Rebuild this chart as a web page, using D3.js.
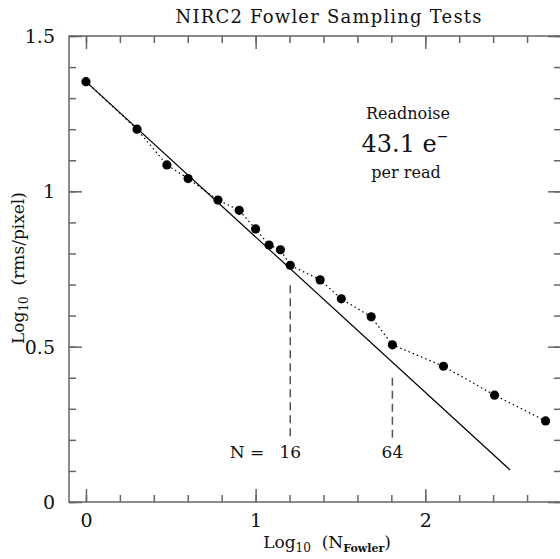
<!DOCTYPE html>
<html lang="en">
<head>
<meta charset="utf-8">
<title>NIRC2 Fowler Sampling Tests</title>
<script src="https://cdn.jsdelivr.net/npm/d3@7"></script>
<style>
  body { margin: 0; background: #fff; }
  svg { display: block; font-family: "DejaVu Serif", serif; }
  .frame path.domain { display: none; }
  .frame line { stroke: #666; stroke-width: 1.5px; }
  .frame text { fill: #111; font-size: 19px; font-family: "DejaVu Serif", serif; }
</style>
</head>
<body>
<script>

// fowler samples and measured log10 noise
var nFowler = [1, 2, 3, 4, 6, 8, 10, 12, 14, 16, 24, 32, 48, 64, 128, 256, 512];
var logRms = [1.353, 1.200, 1.085, 1.041, 0.972, 0.939, 0.879, 0.827, 0.812,
              0.762, 0.715, 0.654, 0.596, 0.506, 0.437, 0.344, 0.261];

// ideal 1/sqrt(N) line end points
var idealX = [0, 2.5];
var idealY = [1.353, 0.103];

// marked N values, with top of the dashed line
var markN = [16, 64];
var markTop = [0.698, 0.40];
var markBottom = 0.203;
var markLabelY = 0.142;

var xMajor = [0, 1, 2];
var yMajor = [0, 0.5, 1, 1.5];
var xMinor = d3.range(0, 2.81, 0.2);
var yMinor = d3.range(0, 1.51, 0.1);

var width = 560, height = 559;
var mLeft = 69, mRight = 561, mTop = 36, mBottom = 502;

var x = d3.scaleLinear().domain([-0.1, 2.8]).range([mLeft, mRight]);
var y = d3.scaleLinear().domain([0, 1.5]).range([mBottom, mTop]);

var svg = d3.select("body").append("svg")
    .attr("width", width)
    .attr("height", height);

// frame box
svg.append("rect")
    .attr("x", mLeft).attr("y", mTop)
    .attr("width", mRight - mLeft).attr("height", mBottom - mTop)
    .attr("fill", "none")
    .attr("stroke", "#666")
    .attr("stroke-width", 1.5);

function ticks(axis, vals, size, fmt) {
  return axis.tickValues(vals).tickSize(size).tickPadding(8).tickFormat(fmt || "");
}

// bottom
svg.append("g").attr("class", "frame").attr("transform", "translate(0," + mBottom + ")")
    .call(ticks(d3.axisBottom(x), xMinor, -7));
svg.append("g").attr("class", "frame xlab").attr("transform", "translate(0," + mBottom + ")")
    .call(ticks(d3.axisBottom(x), xMajor, -13, d3.format("d")));
// top
svg.append("g").attr("class", "frame").attr("transform", "translate(0," + mTop + ")")
    .call(ticks(d3.axisTop(x), xMinor, -7));
svg.append("g").attr("class", "frame").attr("transform", "translate(0," + mTop + ")")
    .call(ticks(d3.axisTop(x), xMajor, -13));
// left
svg.append("g").attr("class", "frame").attr("transform", "translate(" + mLeft + ",0)")
    .call(ticks(d3.axisLeft(y), yMinor, -7));
svg.append("g").attr("class", "frame ylab").attr("transform", "translate(" + mLeft + ",0)")
    .call(ticks(d3.axisLeft(y), yMajor, -13, function(d) { return String(d); }));
// right
svg.append("g").attr("class", "frame").attr("transform", "translate(" + mRight + ",0)")
    .call(ticks(d3.axisRight(y), yMinor, -7));
svg.append("g").attr("class", "frame").attr("transform", "translate(" + mRight + ",0)")
    .call(ticks(d3.axisRight(y), yMajor, -13));

svg.selectAll(".xlab .tick text").attr("dy", null).attr("y", 25);
svg.selectAll(".ylab .tick text").attr("x", -14).attr("dy", "0.35em");

// ideal line
var pts = idealX.map(function(d, i) { return [x(d), y(idealY[i])]; });
svg.append("path")
    .attr("d", d3.line()(pts))
    .attr("fill", "none")
    .attr("stroke", "#000")
    .attr("stroke-width", 1.2);

// measured, dotted
var data = nFowler.map(function(n, i) { return { lx: Math.log10(n), ly: logRms[i] }; });
svg.append("path")
    .datum(data)
    .attr("d", d3.line().x(function(d) { return x(d.lx); }).y(function(d) { return y(d.ly); }))
    .attr("fill", "none")
    .attr("stroke", "#000")
    .attr("stroke-width", 1.2)
    .attr("stroke-dasharray", "1.5,3");

svg.selectAll("circle.pt")
    .data(data)
    .enter().append("circle")
    .attr("class", "pt")
    .attr("cx", function(d) { return x(d.lx); })
    .attr("cy", function(d) { return y(d.ly); })
    .attr("r", 4.6)
    .attr("fill", "#000");

// dashed markers
markN.forEach(function(n, i) {
  svg.append("line")
      .attr("x1", x(Math.log10(n))).attr("x2", x(Math.log10(n)))
      .attr("y1", y(markTop[i])).attr("y2", y(markBottom))
      .attr("stroke", "#555")
      .attr("stroke-width", 1.5)
      .attr("stroke-dasharray", "8,5");
  svg.append("text")
      .attr("x", x(Math.log10(n))).attr("y", y(markLabelY))
      .attr("text-anchor", "middle")
      .attr("font-size", 17)
      .attr("fill", "#111")
      .text(n);
});
svg.append("text")
    .attr("x", x(Math.log10(16)) - 26).attr("y", y(markLabelY))
    .attr("text-anchor", "end")
    .attr("font-size", 17)
    .attr("fill", "#111")
    .attr("xml:space", "preserve")
    .text("N =");

// title
svg.append("text")
    .attr("x", 328.5).attr("y", 23)
    .attr("text-anchor", "middle")
    .attr("font-size", 18)
    .attr("fill", "#111")
    .attr("textLength", 306)
    .attr("lengthAdjust", "spacing")
    .text("NIRC2 Fowler Sampling Tests");

// readnoise note
svg.append("text")
    .attr("x", 408).attr("y", 119)
    .attr("text-anchor", "middle")
    .attr("font-size", 16)
    .attr("fill", "#111")
    .text("Readnoise");
var rn = svg.append("text")
    .attr("x", 405).attr("y", 152)
    .attr("text-anchor", "middle")
    .attr("font-size", 24)
    .attr("fill", "#111");
rn.append("tspan").text("43.1 e");
rn.append("tspan").attr("dy", -11).attr("font-size", 14).text("\u2212");
svg.append("text")
    .attr("x", 406).attr("y", 178)
    .attr("text-anchor", "middle")
    .attr("font-size", 16)
    .attr("fill", "#111")
    .text("per read");

// x label
var xl = svg.append("text")
    .attr("x", 327).attr("y", 548)
    .attr("text-anchor", "middle")
    .attr("font-size", 17)
    .attr("fill", "#111")
    .attr("xml:space", "preserve");
xl.append("tspan").text("Log");
xl.append("tspan").attr("font-size", 12).attr("dy", 4).text("10");
xl.append("tspan").attr("dy", -4).text("  (N");
xl.append("tspan").attr("font-size", 11).attr("font-weight", "bold").attr("dy", 4).text("Fowler");
xl.append("tspan").attr("dy", -4).text(")");

// y label
var yl = svg.append("text")
    .attr("transform", "translate(24,268) rotate(-90)")
    .attr("text-anchor", "middle")
    .attr("font-size", 17)
    .attr("fill", "#111")
    .attr("xml:space", "preserve");
yl.append("tspan").text("Log");
yl.append("tspan").attr("font-size", 12).attr("dy", 4).text("10");
yl.append("tspan").attr("dy", -4).text("  (rms/pixel)");

</script>
</body>
</html>
